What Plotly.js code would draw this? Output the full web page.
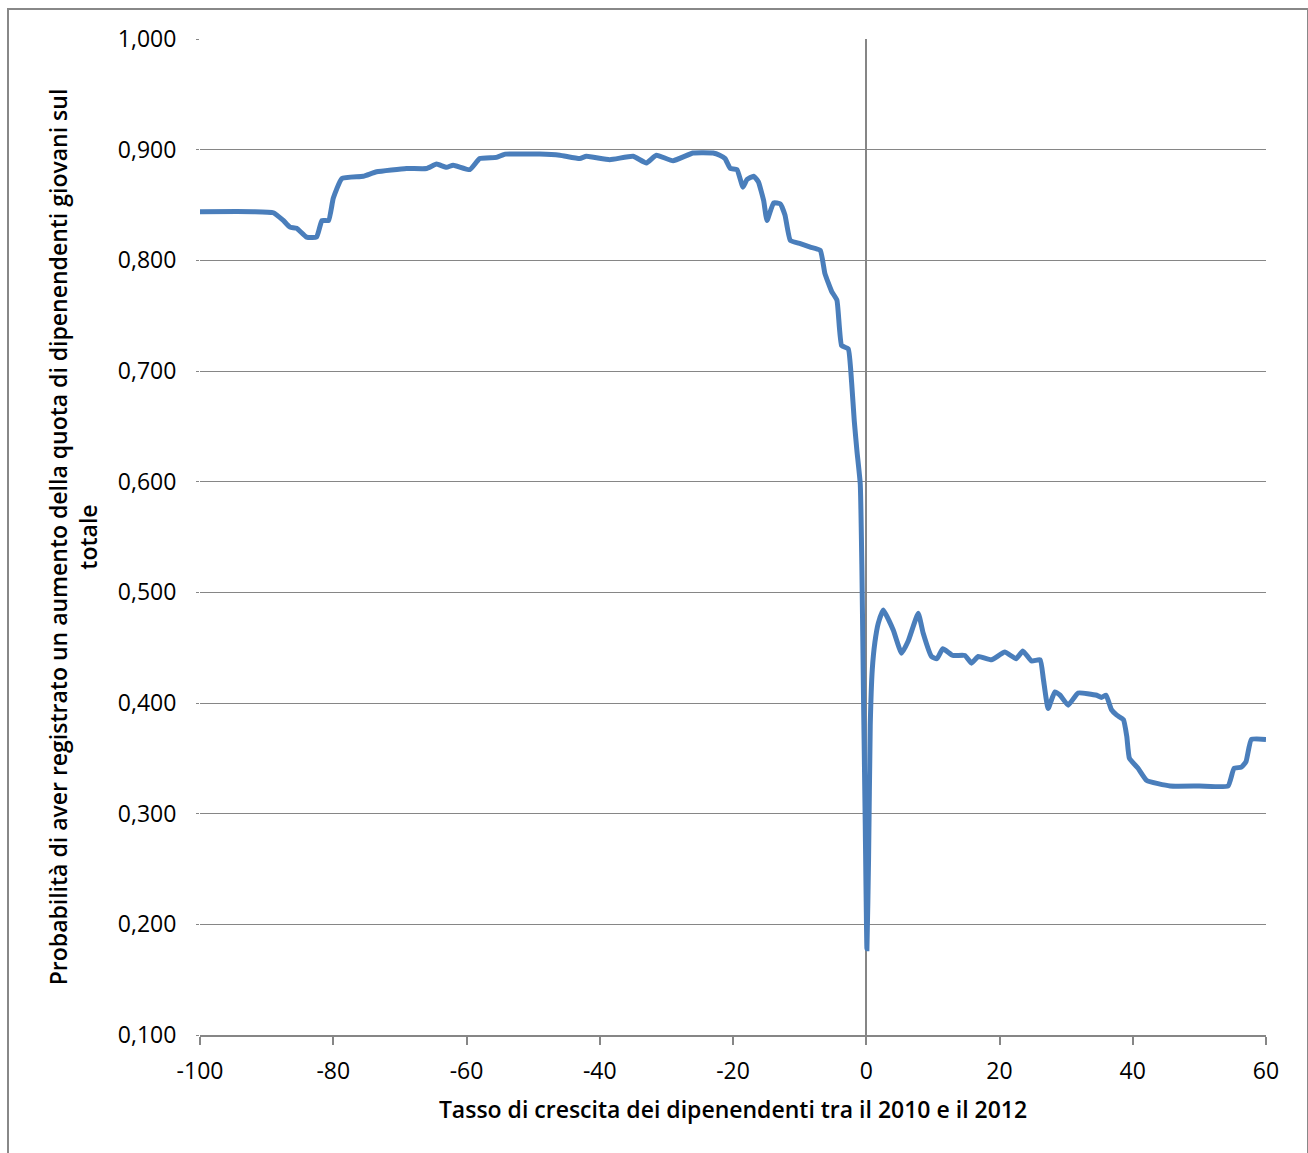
<!DOCTYPE html>
<html>
<head>
<meta charset="utf-8">
<script src="https://cdn.plot.ly/plotly-3.0.1.min.js"></script>
<style>
  html, body { margin: 0; padding: 0; background: #fff; }
  #wrap { position: relative; width: 1308px; height: 1153px; overflow: hidden; }
  #chart { position: absolute; left: 0; top: 0; width: 1308px; height: 1153px; }
  #frame { position: absolute; left: 7px; top: 8px; width: 1298px; height: 1170px;
           border: 2px solid #888888; pointer-events: none; }
</style>
</head>
<body>
<div id="wrap">
  <div id="chart"></div>
  <div id="frame"></div>
</div>
<script>
// Growth rate of employees 2010-2012 (%)
const growthRate = [
  -100, -92, -89, -87.5, -86.5, -85.5, -84, -82.5, -81.7, -80.7, -80, -78.7, -75.5, -73.5,
  -69, -66, -64.5, -63, -62, -59.5, -58, -55.5, -54.2, -52, -49, -46, -43, -42, -38.5,
  -35, -33, -31.5, -29, -26, -23, -22, -21.2, -20.4, -19.4, -18.5, -17.9, -16.9, -16.2,
  -15.4, -14.9, -13.9, -12.9, -12.2, -11.4, -9.9, -8.4, -6.9, -6.2, -5.2, -4.4, -3.7,
  -2.7, -2.2, -1.8, -1.4, -0.9, -0.65, -0.4, -0.15, 0.1, 0.35, 0.6, 0.9, 1.3, 1.8, 2.55,
  4.05, 5.3, 6.3, 7.8, 8.55, 9.8, 10.6, 11.5, 13.0, 14.8, 15.8, 16.8, 18.8, 20.8, 22.5,
  23.5, 24.8, 26.1, 26.6, 27.3, 28.3, 29.1, 30.3, 31.8, 34.6, 35.3, 36.0, 36.8, 37.6,
  38.6, 39.1, 39.5, 40.8, 42.1, 45.6, 50, 54.3, 55.2, 56.3, 57.0, 57.8, 60
];
// Probability of an increase in the share of young employees
const probability = [
  0.844, 0.844, 0.843, 0.836, 0.830, 0.829, 0.821, 0.821, 0.836, 0.836, 0.856, 0.874, 0.876, 0.880,
  0.883, 0.883, 0.887, 0.884, 0.886, 0.882, 0.892, 0.893, 0.896, 0.896, 0.896, 0.895, 0.892, 0.894, 0.891,
  0.894, 0.888, 0.895, 0.890, 0.897, 0.897, 0.895, 0.892, 0.883, 0.882, 0.866, 0.873, 0.876, 0.871,
  0.854, 0.836, 0.852, 0.851, 0.841, 0.818, 0.815, 0.812, 0.809, 0.788, 0.772, 0.764, 0.723,
  0.720, 0.690, 0.655, 0.628, 0.598, 0.52, 0.40, 0.29, 0.178, 0.26, 0.38, 0.43, 0.455, 0.472, 0.484,
  0.466, 0.445, 0.456, 0.481, 0.463, 0.442, 0.440, 0.449, 0.443, 0.443, 0.436, 0.442, 0.439, 0.446, 0.440,
  0.447, 0.438, 0.439, 0.421, 0.395, 0.410, 0.407, 0.398, 0.409, 0.407, 0.405, 0.407, 0.394, 0.389,
  0.385, 0.370, 0.350, 0.341, 0.330, 0.325, 0.325, 0.325, 0.341, 0.342, 0.347, 0.367, 0.367
];
const xTickVals = [-100, -80, -60, -40, -20, 0, 20, 40, 60];
const xTickText = ['-100', '-80', '-60', '-40', '-20', '0', '20', '40', '60'];
const yTickVals = [0.1, 0.2, 0.3, 0.4, 0.5, 0.6, 0.7, 0.8, 0.9, 1.0];
const yTickText = ['0,100', '0,200', '0,300', '0,400', '0,500', '0,600', '0,700', '0,800', '0,900', '1,000'];
const xTitle = 'Tasso di crescita dei dipenendenti tra il 2010 e il 2012';
const yTitle = 'Probabilità di aver registrato un aumento della quota di dipenendenti giovani sul<br>totale';

const gridCol = '#868686';
const fam = 'Open Sans, sans-serif';
const trace = {
  x: growthRate, y: probability, type: 'scatter', mode: 'lines',
  line: { color: '#4A7EBB', width: 5, shape: 'spline', smoothing: 0.4 },
  hoverinfo: 'x+y'
};
const layout = {
  width: 1308, height: 1153,
  margin: { l: 200, r: 42, t: 39, b: 118, pad: 0 },
  paper_bgcolor: '#ffffff', plot_bgcolor: '#ffffff',
  showlegend: false,
  font: { family: fam, color: '#000000', size: 23 },
  xaxis: {
    range: [-100, 60], tickmode: 'array', tickvals: xTickVals, ticktext: xTickText,
    showgrid: false, zeroline: true, zerolinecolor: gridCol, zerolinewidth: 1.5,
    showline: true, linecolor: gridCol, linewidth: 1.5,
    ticks: 'outside', ticklen: 8, tickcolor: gridCol, tickwidth: 1.5,
    ticklabelstandoff: 7,
    tickfont: { size: 23, family: fam, color: '#000' },
    title: { text: xTitle, font: { size: 23, family: fam, color: '#000', weight: 600 }, standoff: 17 },
    automargin: false, fixedrange: true
  },
  yaxis: {
    range: [0.1, 1.0], tickmode: 'array', tickvals: yTickVals, ticktext: yTickText,
    showgrid: true, gridcolor: gridCol, gridwidth: 1.3, zeroline: false,
    showline: false, ticks: 'outside', ticklen: 3, tickcolor: gridCol,
    ticklabelstandoff: 15,
    tickfont: { size: 23, family: fam, color: '#000' },
    title: { text: yTitle, font: { size: 23, family: fam, color: '#000', weight: 600 }, standoff: 13 },
    automargin: false, fixedrange: true
  }
};
Plotly.newPlot('chart', [trace], layout, { displayModeBar: false });
</script>
</body>
</html>
